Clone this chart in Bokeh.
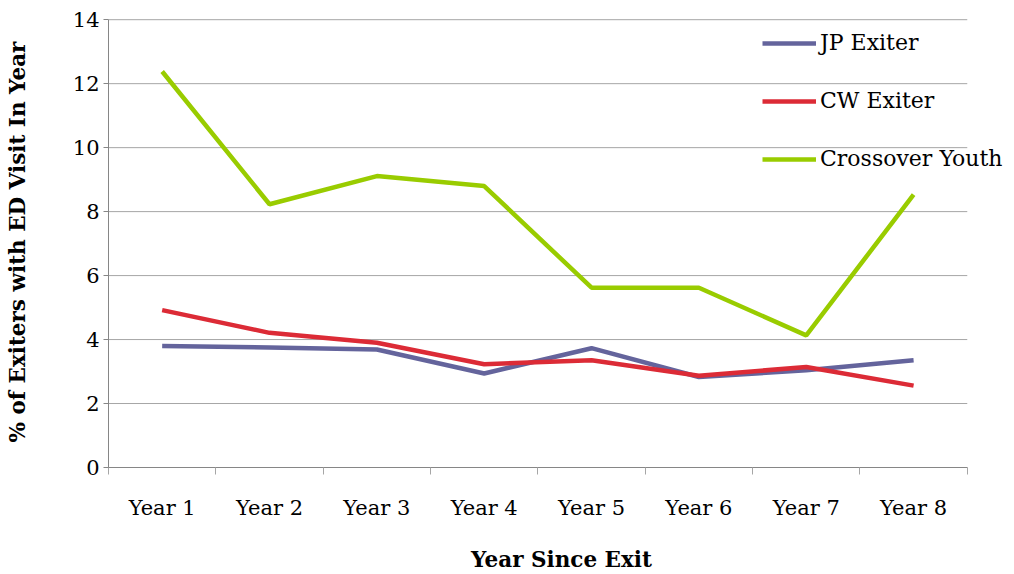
from bokeh.plotting import figure
from bokeh.models import FixedTicker, Legend, LegendItem, Range1d
from bokeh.embed import file_html
from bokeh.resources import INLINE

categories = ["Year 1", "Year 2", "Year 3", "Year 4", "Year 5", "Year 6", "Year 7", "Year 8"]
jp_exiter = [3.80, 3.75, 3.69, 2.94, 3.73, 2.83, 3.04, 3.35]
cw_exiter = [4.92, 4.21, 3.90, 3.23, 3.35, 2.87, 3.14, 2.56]
crossover_youth = [12.38, 8.23, 9.11, 8.80, 5.62, 5.62, 4.13, 8.53]
y_ticks = [0, 2, 4, 6, 8, 10, 12, 14]

xs = list(range(1, len(categories) + 1))
x_lo, x_hi = 0.5, len(categories) + 0.5
FONT = "DejaVu Serif"

# frame extends a little past the last category so the legend can overhang
p = figure(width=1014, height=574, output_backend="svg", toolbar_location=None,
           x_range=Range1d(x_lo, x_hi + 0.44), y_range=Range1d(0, 14.1),
           min_border_left=108, min_border_right=0, min_border_top=16, min_border_bottom=107)
p.outline_line_color = None
p.xgrid.visible = False
p.ygrid.visible = False

# horizontal gridlines limited to the category span
p.segment(x0=[x_lo] * len(y_ticks), x1=[x_hi] * len(y_ticks), y0=y_ticks, y1=y_ticks,
          line_color="#a6a6a6", line_width=1)

# axes
p.xaxis.ticker = FixedTicker(ticks=xs, minor_ticks=[x - 0.5 for x in xs] + [x_hi])
p.xaxis.bounds = (x_lo, x_hi)
p.xaxis.major_label_overrides = {x: c for x, c in zip(xs, categories)}
p.xaxis.major_tick_out = 0
p.xaxis.major_tick_in = 0
p.xaxis.minor_tick_out = 7
p.xaxis.minor_tick_in = 0
p.xaxis.minor_tick_line_color = "#a6a6a6"
p.xaxis.axis_line_color = "#868686"
p.xaxis.major_label_standoff = 21
p.xaxis.axis_label = "Year Since Exit"
p.xaxis.axis_label_standoff = 24

p.yaxis.ticker = FixedTicker(ticks=y_ticks)
p.yaxis.bounds = (0, 14)
p.yaxis.minor_tick_line_color = None
p.yaxis.major_tick_out = 5
p.yaxis.major_tick_in = 0
p.yaxis.major_tick_line_color = "#868686"
p.yaxis.axis_line_color = "#868686"
p.yaxis.major_label_standoff = 4
p.yaxis.axis_label = "% of Exiters with ED Visit In Year"
p.yaxis.axis_label_standoff = 40

for ax in (p.xaxis, p.yaxis):
    ax.major_label_text_font = FONT
    ax.major_label_text_font_size = "21px"
    ax.major_label_text_color = "black"
    ax.axis_label_text_font = FONT
    ax.axis_label_text_font_size = "21.5px"
    ax.axis_label_text_font_style = "bold"
    ax.axis_label_text_color = "black"

r1 = p.line(xs, jp_exiter, line_color="#64649c", line_width=4.5)
r2 = p.line(xs, cw_exiter, line_color="#dc2b36", line_width=4.5)
r3 = p.line(xs, crossover_youth, line_color="#99cc00", line_width=4.5)

legend = Legend(items=[LegendItem(label="JP Exiter", renderers=[r1]),
                       LegendItem(label="CW Exiter", renderers=[r2]),
                       LegendItem(label="Crossover Youth", renderers=[r3])],
                location=(654, 296), padding=10, spacing=33,
                glyph_width=54, glyph_height=24, label_height=24, label_standoff=4,
                label_text_font=FONT, label_text_font_size="22px", label_text_color="black",
                border_line_color=None, background_fill_alpha=0)
p.add_layout(legend, "center")

open("out.html", "w").write(file_html(p, INLINE))
